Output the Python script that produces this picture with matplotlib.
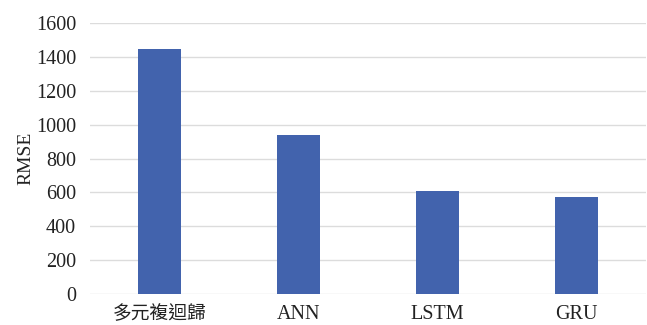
import matplotlib
matplotlib.use('Agg')
import matplotlib.pyplot as plt

models = ['多元複迴歸', 'ANN', 'LSTM', 'GRU']
rmse = [1448, 940, 608, 575]
yticks = [0, 200, 400, 600, 800, 1000, 1200, 1400, 1600]

plt.rcParams['font.family'] = ['Liberation Serif', 'Noto Sans CJK TC']

fig = plt.figure(figsize=(6.47, 3.25), dpi=100)
ax = fig.add_axes([90/647, 31/325, 556/647, 271/325])

ax.bar(range(len(models)), rmse, width=0.31, color='#4263ad', zorder=3)
ax.set_xlim(-0.5, len(models) - 0.5)
ax.set_ylim(0, 1600)
ax.set_yticks(yticks)
ax.set_xticks(range(len(models)))
ax.set_xticklabels(models)
ax.yaxis.grid(True, color='#dcdcdc', linewidth=1, zorder=0)
ax.tick_params(axis='both', length=0, labelsize=14.5, colors='#222222')
ax.tick_params(axis='y', pad=10)
ax.tick_params(axis='x', pad=8)
# chinese label a bit smaller
ax.get_xticklabels()[0].set_fontsize(13.5)
for s in ax.spines.values():
    s.set_visible(False)
ax.set_ylabel('RMSE', fontsize=14, color='#222222', labelpad=1)

fig.savefig('out.png', dpi=100)
